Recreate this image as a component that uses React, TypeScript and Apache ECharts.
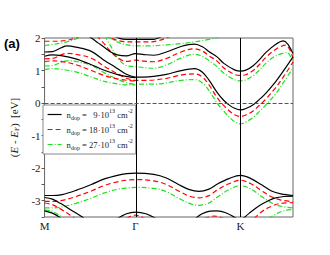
import React, { useEffect, useRef } from 'react';
import * as echarts from 'echarts';

// k-path coordinate (M=0, Γ=0.577, K=1.244, M=1.577)
const kTicks = [0, 0.577, 1.244];
const kLabels = ['M', 'Γ', 'K'];
const yTickLabels = ['-3', '-2', '-1', '0', '1', '2'];

const legendNames = ['n9', 'n18', 'n27'];
const legendDoping = ['\u20079', '18', '27'];

// conduction band U (through Γ lower, Dirac-like at K)
const kU = [0, 0.049, 0.105, 0.142, 0.198, 0.297, 0.383, 0.445, 0.507, 0.544, 0.577, 0.631, 0.693, 0.773, 0.866, 0.952, 1.002, 1.045, 1.095, 1.138, 1.175, 1.206, 1.244, 1.281, 1.324, 1.361, 1.404, 1.466, 1.515, 1.577];
const eU9 = [1.57, 1.58, 1.70, 1.76, 1.72, 1.59, 1.30, 1.12, 0.92, 0.84, 0.80, 0.80, 0.82, 0.88, 1.00, 1.06, 0.95, 0.70, 0.33, 0.08, -0.07, -0.16, -0.21, -0.16, -0.05, 0.10, 0.30, 0.65, 0.98, 1.42];
const eU18 = [1.36, 1.37, 1.48, 1.53, 1.50, 1.38, 1.12, 0.95, 0.79, 0.73, 0.70, 0.70, 0.71, 0.76, 0.86, 0.90, 0.80, 0.55, 0.17, -0.08, -0.25, -0.36, -0.41, -0.36, -0.24, -0.08, 0.12, 0.47, 0.80, 1.26];
const eU27 = [1.14, 1.15, 1.25, 1.30, 1.28, 1.16, 0.92, 0.77, 0.65, 0.60, 0.58, 0.58, 0.58, 0.62, 0.70, 0.72, 0.62, 0.38, 0.00, -0.25, -0.44, -0.57, -0.64, -0.57, -0.44, -0.27, -0.06, 0.28, 0.62, 1.08];

// band L (M -> Γ)
const kL = [0, 0.049, 0.105, 0.198, 0.297, 0.383, 0.476, 0.544, 0.577];
const eL9 = [1.44, 1.48, 1.46, 1.36, 1.18, 1.00, 0.86, 0.80, 0.78];
const eL18 = [1.27, 1.30, 1.28, 1.18, 1.00, 0.84, 0.73, 0.69, 0.68];
const eL27 = [1.03, 1.06, 1.04, 0.96, 0.80, 0.66, 0.58, 0.56, 0.56];

// band T
const kT9 = [0.26, 0.297, 0.34, 0.383, 0.42, 0.462, 0.52, 0.577, 0.631, 0.693, 0.773, 0.866, 0.952, 1.002, 1.045, 1.095, 1.138, 1.206, 1.244, 1.281, 1.324, 1.361, 1.404, 1.466, 1.515, 1.577];
const eT9 = [2.12, 2.00, 1.85, 1.70, 1.57, 1.48, 1.45, 1.52, 1.49, 1.47, 1.57, 1.74, 1.81, 1.73, 1.58, 1.42, 1.22, 1.02, 0.98, 1.02, 1.15, 1.32, 1.55, 1.80, 1.91, 1.52];
const kT18 = [0.33, 0.36, 0.383, 0.42, 0.462, 0.52, 0.577, 0.631, 0.693, 0.773, 0.866, 0.952, 1.002, 1.045, 1.095, 1.138, 1.206, 1.244, 1.281, 1.324, 1.361, 1.404, 1.466, 1.53, 1.577];
const eT18 = [2.08, 1.92, 1.80, 1.58, 1.40, 1.28, 1.32, 1.29, 1.27, 1.37, 1.57, 1.67, 1.60, 1.45, 1.29, 1.08, 0.88, 0.85, 0.88, 1.00, 1.17, 1.40, 1.65, 1.78, 1.38];
const kT27 = [0.38, 0.42, 0.462, 0.52, 0.577, 0.631, 0.693, 0.773, 0.866, 0.952, 1.002, 1.045, 1.095, 1.138, 1.206, 1.244, 1.281, 1.324, 1.361, 1.404, 1.466, 1.54, 1.577];
const eT27 = [2.08, 1.75, 1.40, 1.15, 1.12, 1.09, 1.07, 1.17, 1.38, 1.50, 1.44, 1.30, 1.12, 0.92, 0.72, 0.68, 0.72, 0.84, 1.00, 1.22, 1.45, 1.55, 1.22];

// band TT (top, near Γ)
const kTT9 = [0.42, 0.476, 0.52, 0.577, 0.631, 0.693, 0.73, 0.773, 0.82];
const eTT9 = [2.12, 1.99, 1.96, 1.96, 1.96, 1.96, 2.02, 2.12, 2.25];
const kTT18 = [0.38, 0.445, 0.507, 0.577, 0.662, 0.724, 0.773, 0.83];
const eTT18 = [2.08, 1.95, 1.89, 1.88, 1.88, 1.92, 2.00, 2.10];
const kTT27 = [0.40, 0.476, 0.545, 0.577, 0.662, 0.773, 0.866, 0.952, 1.045, 1.10, 1.15];
const eTT27 = [2.05, 1.85, 1.77, 1.76, 1.76, 1.79, 1.83, 1.88, 1.96, 2.02, 2.08];

// band MT (top, near M)
const kMT18 = [0, 0.074, 0.142, 0.198, 0.23];
const eMT18 = [1.90, 1.90, 1.93, 2.00, 2.06];
const kMT27 = [0, 0.074, 0.142, 0.198, 0.247];
const eMT27 = [1.77, 1.82, 1.88, 1.97, 2.06];

// valence band V1
const kV1 = [0, 0.05, 0.111, 0.2, 0.297, 0.38, 0.462, 0.52, 0.577, 0.693, 0.773, 0.85, 0.92, 0.98, 1.04, 1.10, 1.17, 1.244, 1.31, 1.38, 1.44, 1.50, 1.577];
const eV1_9 = [-2.84, -2.84, -2.81, -2.68, -2.50, -2.33, -2.22, -2.17, -2.15, -2.19, -2.30, -2.50, -2.66, -2.71, -2.65, -2.48, -2.32, -2.22, -2.32, -2.52, -2.70, -2.79, -2.84];
const eV1_18 = [-3.02, -3.02, -2.99, -2.87, -2.70, -2.53, -2.42, -2.37, -2.35, -2.39, -2.50, -2.70, -2.86, -2.91, -2.85, -2.66, -2.48, -2.37, -2.48, -2.70, -2.88, -2.98, -3.03];
const eV1_27 = [-3.22, -3.22, -3.19, -3.08, -2.92, -2.76, -2.65, -2.61, -2.59, -2.62, -2.72, -2.92, -3.08, -3.14, -3.08, -2.88, -2.66, -2.54, -2.64, -2.88, -3.06, -3.17, -3.22];

// valence band V2 (left of Γ, near M)
const kV2L9 = [0, 0.05, 0.10, 0.15, 0.20, 0.25];
const eV2L9 = [-2.90, -2.95, -3.08, -3.23, -3.38, -3.53];
const kV2L18 = [0, 0.05, 0.10, 0.15, 0.19];
const eV2L18 = [-3.07, -3.12, -3.25, -3.40, -3.53];
const kV2L27 = [0, 0.05, 0.10, 0.13];
const eV2L27 = [-3.28, -3.33, -3.46, -3.55];
const kV3 = [0, 0.05, 0.10];
const eV3 = [-3.31, -3.38, -3.52];

// valence band V2 (K -> M)
const kV2R9 = [1.263, 1.30, 1.36, 1.42, 1.46, 1.52, 1.577];
const eV2R9 = [-3.54, -3.38, -3.16, -3.00, -2.92, -2.87, -2.86];
const kV2R18 = [1.33, 1.38, 1.44, 1.50, 1.577];
const eV2R18 = [-3.55, -3.33, -3.17, -3.08, -3.06];
const kV2R27 = [1.42, 1.48, 1.53, 1.577];
const eV2R27 = [-3.55, -3.38, -3.29, -3.27];

// bottom arcs
const kG9 = [0.462, 0.52, 0.577, 0.643, 0.709];
const eG9 = [-3.55, -3.40, -3.35, -3.40, -3.55];
const kG18 = [0.52, 0.55, 0.577, 0.604, 0.635];
const eG18 = [-3.55, -3.47, -3.44, -3.47, -3.55];
const kKb9 = [0.957, 1.0, 1.05, 1.095, 1.15, 1.22];
const eKb9 = [-3.55, -3.40, -3.32, -3.31, -3.37, -3.55];
const kKb18 = [1.014, 1.076, 1.138];
const eKb18 = [-3.55, -3.47, -3.55];

const bands: { name: string; k: number[]; e: number[] }[] = [
  { name: 'n27', k: kU, e: eU27 },
  { name: 'n27', k: kL, e: eL27 },
  { name: 'n27', k: kT27, e: eT27 },
  { name: 'n27', k: kTT27, e: eTT27 },
  { name: 'n27', k: kMT27, e: eMT27 },
  { name: 'n27', k: kV1, e: eV1_27 },
  { name: 'n27', k: kV2L27, e: eV2L27 },
  { name: 'n27', k: kV2R27, e: eV2R27 },
  { name: 'n18', k: kU, e: eU18 },
  { name: 'n18', k: kL, e: eL18 },
  { name: 'n18', k: kT18, e: eT18 },
  { name: 'n18', k: kTT18, e: eTT18 },
  { name: 'n18', k: kMT18, e: eMT18 },
  { name: 'n18', k: kV1, e: eV1_18 },
  { name: 'n18', k: kV2L18, e: eV2L18 },
  { name: 'n18', k: kV2R18, e: eV2R18 },
  { name: 'n18', k: kG18, e: eG18 },
  { name: 'n18', k: kKb18, e: eKb18 },
  { name: 'n9', k: kU, e: eU9 },
  { name: 'n9', k: kL, e: eL9 },
  { name: 'n9', k: kT9, e: eT9 },
  { name: 'n9', k: kTT9, e: eTT9 },
  { name: 'n9', k: kV1, e: eV1_9 },
  { name: 'n9', k: kV2L9, e: eV2L9 },
  { name: 'n9', k: kV3, e: eV3 },
  { name: 'n9', k: kV2R9, e: eV2R9 },
  { name: 'n9', k: kG9, e: eG9 },
  { name: 'n9', k: kKb9, e: eKb9 },
];

const lineStyles: Record<string, any> = {
  n9: { color: '#000000', type: 'solid', width: 1.2 },
  n18: { color: '#ff0000', type: [5, 3], width: 1.2 },
  n27: { color: '#1ee01e', type: [5, 2, 1, 2], width: 1.2 },
};

const SERIF = 'Liberation Serif, DejaVu Serif, serif';

export default function App() {
  const ref = useRef<HTMLDivElement>(null);
  useEffect(() => {
    const chart = echarts.init(ref.current!, null, { renderer: 'svg' });
    const series: any[] = bands.map((b) => ({
      type: 'line',
      name: b.name,
      data: b.k.map((x, j) => [x, b.e[j]]),
      symbol: 'none',
      smooth: 0.35,
      clip: true,
      silent: true,
      color: lineStyles[b.name].color,
      lineStyle: lineStyles[b.name],
      z: 2,
    }));
    series.push({
      type: 'line',
      name: 'refs',
      data: [],
      symbol: 'none',
      silent: true,
      markLine: {
        silent: true,
        symbol: ['none', 'none'],
        label: { show: false },
        animation: false,
        data: [
          { xAxis: kTicks[1], lineStyle: { color: '#000', width: 1, type: 'solid' } },
          { xAxis: kTicks[2], lineStyle: { color: '#000', width: 1, type: 'solid' } },
          { yAxis: 0, lineStyle: { color: '#555', width: 1, type: [4, 2] } },
        ],
      },
    });
    const option: any = {
      animation: false,
      backgroundColor: '#ffffff',
      grid: {
        left: 38, right: 37, top: 38, bottom: 38,
        show: true, borderColor: '#666', borderWidth: 1, backgroundColor: 'transparent',
      },
      xAxis: {
        type: 'value',
        min: 0,
        max: 1.577,
        axisLine: { show: false },
        axisTick: { show: false },
        splitLine: { show: false },
        axisLabel: {
          customValues: kTicks,
          formatter: (v: number) => {
            const i = kTicks.findIndex((t) => Math.abs(t - v) < 1e-6);
            return i >= 0 ? kLabels[i] : '';
          },
          fontFamily: SERIF,
          fontSize: 11,
          color: '#222',
          margin: 3,
        },
      },
      yAxis: {
        type: 'value',
        min: -3.5,
        max: 2,
        interval: 0.5,
        axisLine: { show: false },
        axisTick: { show: true, length: 3, lineStyle: { color: '#555' } },
        splitLine: { show: false },
        axisLabel: {
          formatter: (v: number) => {
            const r = Math.round(v);
            if (Math.abs(v - r) > 1e-6) return '';
            const idx = r + 3;
            return yTickLabels[idx] ?? '';
          },
          fontFamily: SERIF,
          fontSize: 11,
          color: '#222',
          margin: 4,
        },
        name: '{p|(}{i|E}{p| - }{i|E}{s|F}{p|)  [eV]}',
        nameLocation: 'middle',
        nameGap: 12,
        nameTextStyle: {
          fontFamily: SERIF,
          fontSize: 11,
          color: '#222',
          rich: {
            p: { fontFamily: SERIF, fontSize: 11, lineHeight: 14, color: '#222' },
            i: { fontFamily: SERIF, fontSize: 11, fontStyle: 'italic', lineHeight: 14, color: '#222' },
            s: { fontFamily: SERIF, fontSize: 7, lineHeight: 7, verticalAlign: 'bottom', color: '#222' },
          },
        },
      },
      legend: {
        data: legendNames,
        orient: 'vertical',
        left: 43,
        top: 105,
        padding: [3, 3, 3, 4],
        itemGap: 2,
        itemWidth: 14,
        itemHeight: 10,
        backgroundColor: '#ffffff',
        borderColor: '#888',
        borderWidth: 1,
        borderRadius: 0,
        selectedMode: false,
        itemStyle: { color: 'rgba(0,0,0,0)', borderWidth: 0, opacity: 0 },
        lineStyle: { width: 1.2 },
        formatter: (name: string) => {
          const i = legendNames.indexOf(name);
          return `{t|n}{sub|dop}{t| = ${legendDoping[i]}·10}{sup|13}{t| cm}{sup|-2}`;
        },
        textStyle: {
          fontFamily: SERIF,
          fontSize: 8.6,
          color: '#222',
          rich: {
            t: { fontFamily: SERIF, fontSize: 8.6, lineHeight: 13, color: '#222' },
            sub: { fontFamily: SERIF, fontSize: 6, lineHeight: 7, verticalAlign: 'bottom', color: '#222' },
            sup: { fontFamily: SERIF, fontSize: 6, lineHeight: 7, verticalAlign: 'top', color: '#222' },
          },
        },
      },
      graphic: [
        {
          type: 'text',
          left: 4,
          top: 37,
          style: {
            text: '(a)',
            font: 'bold 13px "Liberation Sans", Arial, sans-serif',
            fill: '#000',
          },
        },
      ],
      series,
    };
    chart.setOption(option);
    return () => chart.dispose();
  }, []);
  return (
    <div
      ref={ref}
      style={{ position: 'fixed', left: 0, top: 0, width: 330, height: 255, background: '#fff' }}
    />
  );
}
